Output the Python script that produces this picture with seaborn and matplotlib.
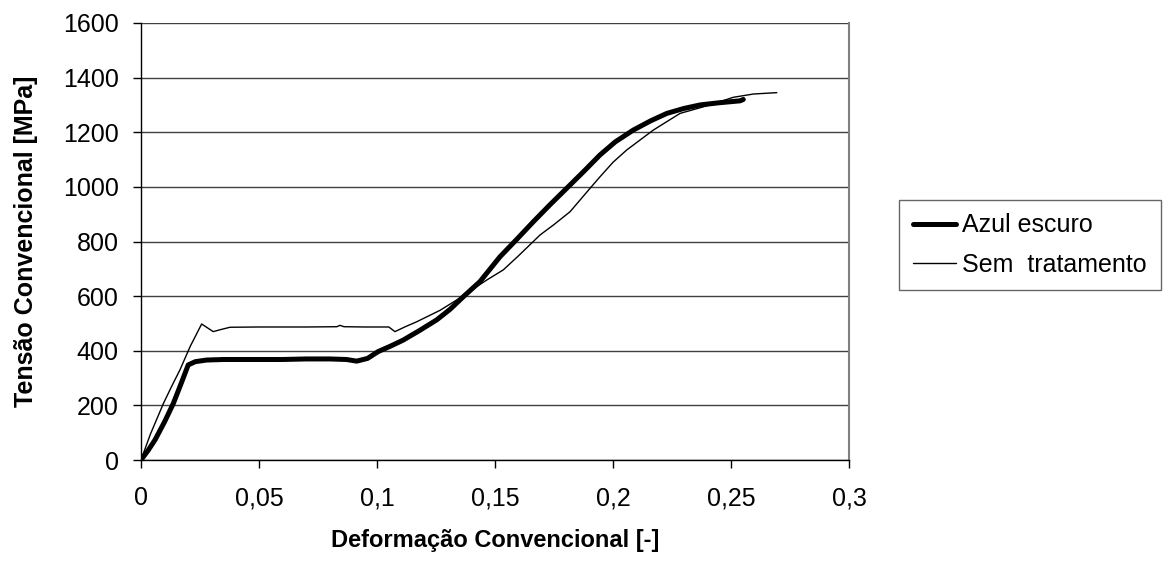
import matplotlib
matplotlib.use("Agg")
import matplotlib.pyplot as plt
import seaborn as sns
import pandas as pd
from matplotlib.lines import Line2D

# Azul escuro (thick)
azul_x = [0.0, 0.003, 0.0059, 0.0100, 0.0137, 0.0170, 0.0200, 0.0230, 0.0278, 0.0350, 0.0450,
          0.0600, 0.0700, 0.0800, 0.0870, 0.0914, 0.0960, 0.1005, 0.1060, 0.1111, 0.1180,
          0.1253, 0.1310, 0.1366, 0.1436, 0.1521, 0.1590, 0.1662, 0.1730, 0.1804, 0.1880,
          0.1945, 0.2010, 0.2086, 0.2160, 0.2228, 0.2300, 0.2369, 0.2450, 0.2538, 0.2552]
azul_y = [0, 35, 73, 140, 207, 280, 348, 360, 366, 368, 368,
          368, 370, 370, 368, 362, 372, 397, 418, 439, 474,
          513, 552, 598, 653, 744, 806, 872, 932, 995, 1060,
          1117, 1165, 1208, 1242, 1269, 1287, 1300, 1308, 1315, 1320]

# Sem tratamento (thin)
sem_x = [0.0, 0.004, 0.0095, 0.0130, 0.0165, 0.0208, 0.0257, 0.0306, 0.0340, 0.0377, 0.0500,
         0.0700, 0.0830, 0.0843, 0.0860, 0.0950, 0.1050, 0.1076, 0.1120, 0.1168, 0.1267,
         0.1338, 0.1400, 0.1465, 0.1535, 0.1600, 0.1691, 0.1750, 0.1818, 0.1903, 0.1945,
         0.2000, 0.2058, 0.2171, 0.2284, 0.2411, 0.2510, 0.2595, 0.2694]
sem_y = [0, 95, 207, 270, 330, 415, 498, 470, 478, 486, 487,
         487, 488, 493, 488, 487, 487, 470, 488, 506, 548,
         586, 622, 659, 696, 748, 824, 862, 909, 995, 1037,
         1090, 1135, 1208, 1269, 1300, 1328, 1340, 1345]

series = ["Azul escuro", "Sem  tratamento"]
x_ticks = [0, 0.05, 0.1, 0.15, 0.2, 0.25, 0.3]
x_tick_labels = ["0", "0,05", "0,1", "0,15", "0,2", "0,25", "0,3"]
y_ticks = [0, 200, 400, 600, 800, 1000, 1200, 1400, 1600]

df = pd.concat([
    pd.DataFrame({"x": azul_x, "y": azul_y, "s": series[0]}),
    pd.DataFrame({"x": sem_x, "y": sem_y, "s": series[1]}),
])

sns.set_style("white")
plt.rcParams["font.family"] = ["Liberation Sans", "DejaVu Sans"]
plt.rcParams["text.color"] = "black"
plt.rcParams["axes.labelcolor"] = "black"

fig = plt.figure(figsize=(11.63, 5.61), dpi=100)
ax = fig.add_axes([141/1163, 1 - 460/561, (849 - 141)/1163, (460 - 23)/561])

sns.lineplot(data=df, x="x", y="y", hue="s", size="s",
             palette={series[0]: "black", series[1]: "black"},
             sizes={series[0]: 3.6, series[1]: 1.0},
             sort=False, estimator=None, ax=ax, legend=False)

ax.set_xlim(0, 0.3)
ax.set_ylim(0, 1600)
ax.set_xticks(x_ticks)
ax.set_xticklabels(x_tick_labels)
ax.set_yticks(y_ticks)
ax.tick_params(axis="both", labelsize=18, direction="out", length=6, width=1, color="black",
               bottom=True, left=True, labelcolor="black")
ax.tick_params(axis="x", pad=13)
ax.tick_params(axis="y", pad=10)
ax.yaxis.grid(True, color="#404040", linewidth=1)
ax.xaxis.grid(False)
for side in ["left", "bottom"]:
    ax.spines[side].set_color("black")
    ax.spines[side].set_linewidth(1)
ax.spines["top"].set_visible(False)
ax.spines["right"].set_color("#808080")
ax.spines["right"].set_linewidth(1.5)

ax.set_xlabel("Deformação Convencional [-]", fontsize=17, fontweight="bold", color="black")
ax.set_ylabel("Tensão Convencional [MPa]", fontsize=18, fontweight="bold", color="black")
ax.yaxis.set_label_coords(-(141 - 26)/708, 0.5)
ax.xaxis.set_label_coords(0.5, -(541 - 460)/437)
ax.xaxis.label.set_va("center")
ax.yaxis.label.set_va("center")

handles = [Line2D([0], [0], color="black", lw=3.6), Line2D([0], [0], color="black", lw=1.0)]
leg = fig.legend(handles, series, loc="upper left", bbox_to_anchor=(899/1163, 1 - 200/561),
                 fontsize=18, frameon=True, fancybox=False, handlelength=1.75,
                 handletextpad=0.25, borderpad=0.54, labelspacing=0.61, borderaxespad=0)
leg.get_frame().set_edgecolor("#404040")
leg.get_frame().set_linewidth(1)

fig.savefig("out.png", dpi=100, facecolor="white")
